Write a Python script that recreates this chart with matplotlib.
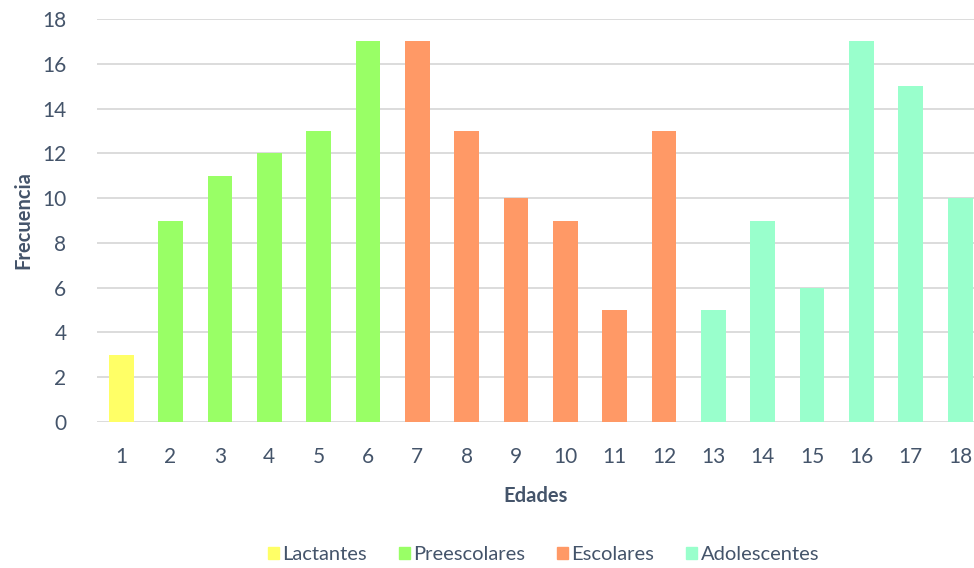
import numpy as np
import matplotlib
matplotlib.use("Agg")
import matplotlib.pyplot as plt
from matplotlib.patches import Patch

plt.rcParams["font.family"] = ["Lato", "DejaVu Sans"]

# ---- data ----
edades = list(range(1, 19))
frecuencia = [3, 9, 11, 12, 13, 17, 17, 13, 10, 9, 5, 13, 5, 9, 6, 17, 15, 10]
grupo = ["Lactantes"] + ["Preescolares"] * 5 + ["Escolares"] * 6 + ["Adolescentes"] * 6
grupos = ["Lactantes", "Preescolares", "Escolares", "Adolescentes"]
colores = {"Lactantes": "#FFFF66", "Preescolares": "#99FF66",
           "Escolares": "#FF9966", "Adolescentes": "#99FFCC"}
yticks = list(range(0, 19, 2))

TEXT = "#44546A"
GRID = "#D9D9D9"

fig = plt.figure(figsize=(9.74, 5.68), dpi=100)
ax = fig.add_axes([0.0996, 0.257, 0.9004, 0.7095])

ax.bar(edades, frecuencia, width=0.5, color=[colores[g] for g in grupo], zorder=3)

ax.set_xlim(0.51, 18.28)
ax.set_ylim(0, 18)
ax.set_yticks(yticks)
ax.set_xticks(edades)
ax.yaxis.grid(True, color=GRID, lw=1.3, zorder=0)
ax.set_axisbelow(True)
for s in ax.spines.values():
    s.set_visible(False)
ax.tick_params(length=0, colors=TEXT, labelsize=15)
ax.tick_params(axis="x", pad=18)
ax.tick_params(axis="y", pad=22)

ax.set_xlabel("Edades", color=TEXT, fontsize=14.5, fontweight="bold", labelpad=14)
ax.set_ylabel("Frecuencia", color=TEXT, fontsize=14.5, fontweight="bold", labelpad=6)

handles = [Patch(color=colores[g], label=g) for g in grupos]
fig.legend(handles=handles, loc="center", bbox_to_anchor=(0.558, 0.023), ncol=4,
           frameon=False, fontsize=14.5, labelcolor=TEXT,
           handlelength=0.55, handleheight=0.55, handletextpad=0.15, columnspacing=1.6)

fig.savefig("out.png", facecolor="white")
